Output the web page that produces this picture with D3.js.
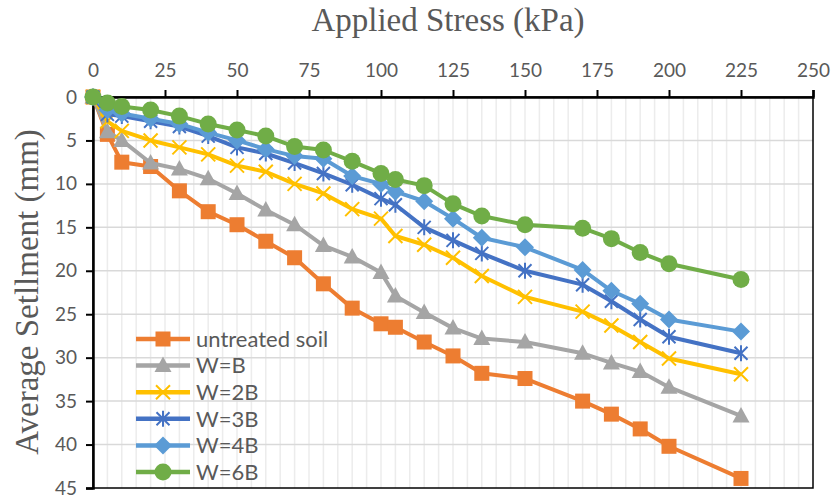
<!DOCTYPE html>
<html><head><meta charset="utf-8">
<script src="https://cdn.jsdelivr.net/npm/d3@7/dist/d3.min.js"></script>
<style>body{margin:0;background:#fff}svg{display:block}</style>
</head><body><svg id="c" width="834" height="500"></svg>
<script>
const stress = [0,5,10,20,30,40,50,60,70,80,90,100,105,115,125,135,150,170,180,190,200,225];
const untreated = [0,4.3,7.5,8.0,10.8,13.2,14.7,16.6,18.5,21.5,24.3,26.1,26.5,28.2,29.8,31.8,32.4,35.0,36.5,38.2,40.2,43.9];
const wB  = [0,4.0,5.0,7.6,8.3,9.4,11.1,13.0,14.7,17.1,18.4,20.2,22.9,24.8,26.6,27.8,28.2,29.5,30.6,31.6,33.4,36.7];
const w2B = [0,2.8,3.9,5.0,5.8,6.6,7.9,8.6,10.0,11.1,12.9,14.0,16.0,17.0,18.5,20.6,23.0,24.7,26.3,28.2,30.1,31.9];
const w3B = [0,2.0,2.2,2.8,3.4,4.5,5.8,6.5,7.6,8.8,10.1,11.7,12.4,15.0,16.5,18.0,20.0,21.6,23.5,25.6,27.6,29.5];
const w4B = [0,1.5,1.9,2.5,3.1,4.1,5.0,6.0,6.8,7.1,9.1,10.0,10.9,12.0,14.0,16.2,17.3,19.9,22.3,23.8,25.6,27.0];
const w6B = [0,0.7,1.1,1.5,2.2,3.1,3.8,4.5,5.7,6.1,7.4,8.8,9.5,10.2,12.3,13.7,14.7,15.1,16.3,17.9,19.2,21.0];
const seriesNames = ["untreated soil","W=B","W=2B","W=3B","W=4B","W=6B"];
const seriesValues = [untreated,wB,w2B,w3B,w4B,w6B];
const seriesColors = ["#ED7D31","#A5A5A5","#FFC000","#4472C4","#5B9BD5","#70AD47"];
const seriesMarkers = ["square","triangle","x","asterisk","diamond","circle"];
const xTicks = [0,25,50,75,100,125,150,175,200,225,250];
const yTicks = [0,5,10,15,20,25,30,35,40,45];

const svg = d3.select("#c");
const L=93,R=813,T=97,B=488;
const x = d3.scaleLinear().domain([0,250]).range([L,R]);
const y = d3.scaleLinear().domain([0,45]).range([T,B]);
const font = "Lato, 'Open Sans', sans-serif";
const serif = "'Liberation Serif','Times New Roman',serif";
const txt = "#595959";

// minor vertical grid
svg.append("g").selectAll("line").data(d3.range(5,250,5))
  .join("line").attr("x1",d=>x(d)).attr("x2",d=>x(d)).attr("y1",T).attr("y2",B)
  .attr("stroke","#ececec").attr("stroke-width",1.5);
// major horizontal grid
svg.append("g").selectAll("line").data(yTicks.filter(d=>d>0&&d<45))
  .join("line").attr("x1",L).attr("x2",R).attr("y1",d=>y(d)).attr("y2",d=>y(d))
  .attr("stroke","#d9d9d9").attr("stroke-width",1.5);

// frame
svg.append("rect").attr("x",L).attr("y",T).attr("width",R-L).attr("height",B-T)
  .attr("fill","none").attr("stroke","#000").attr("stroke-width",1.5);

const xa = svg.append("g").attr("transform",`translate(0,${T})`)
  .call(d3.axisTop(x).tickValues(xTicks).tickSize(7).tickPadding(13).tickFormat(d3.format("d")));
const ya = svg.append("g").attr("transform",`translate(${L},0)`)
  .call(d3.axisLeft(y).tickValues(yTicks).tickSize(7).tickPadding(9).tickFormat(d3.format("d")));
[xa,ya].forEach(a=>{
  a.select(".domain").attr("stroke","#000").attr("stroke-width",2.5);
  a.selectAll(".tick line").attr("stroke","#000").attr("stroke-width",2);
  a.selectAll(".tick text").attr("fill",txt).style("font-family",font).style("font-size","19px");
});

svg.append("text").attr("x",448).attr("y",31).attr("text-anchor","middle")
  .style("font-family",serif).style("font-size","33px")
  .attr("fill",txt).text("Applied Stress (kPa)");
svg.append("text").attr("transform",`translate(38,292) rotate(-90)`).attr("text-anchor","middle")
  .style("font-family",serif).style("font-size","33px")
  .attr("fill",txt).text("Average Setllment (mm)");

function marker(g, type, color){
  if(type==="square") g.append("rect").attr("x",-7.5).attr("y",-7.5).attr("width",15).attr("height",15).attr("fill",color);
  else if(type==="triangle") g.append("path").attr("d","M0,-9L8.5,6.5L-8.5,6.5Z").attr("fill",color);
  else if(type==="diamond") g.append("path").attr("d","M0,-9L9,0L0,9L-9,0Z").attr("fill",color);
  else if(type==="circle") g.append("circle").attr("r",8.5).attr("fill",color);
  else if(type==="x") g.append("path").attr("d","M-7,-7L7,7M-7,7L7,-7").attr("stroke",color).attr("stroke-width",2).attr("fill","none");
  else if(type==="asterisk") g.append("path").attr("d","M-6.5,-6.5L6.5,6.5M-6.5,6.5L6.5,-6.5M0,-8L0,8").attr("stroke",color).attr("stroke-width",2).attr("fill","none");
}

const line = d3.line().x(d=>x(d[0])).y(d=>y(d[1]));
seriesValues.forEach((vals,i)=>{
  const pts = stress.map((s,j)=>[s,vals[j]]);
  const g = svg.append("g");
  g.append("path").attr("d",line(pts)).attr("fill","none").attr("stroke",seriesColors[i])
    .attr("stroke-width",4).attr("stroke-linejoin","round");
  pts.forEach(p=>{
    const m = g.append("g").attr("transform",`translate(${x(p[0])},${y(p[1])})`);
    marker(m, seriesMarkers[i], seriesColors[i]);
  });
});

// legend
const lg = svg.append("g");
seriesNames.forEach((n,i)=>{
  const yy = 339 + i*26.6;
  lg.append("line").attr("x1",136).attr("x2",190).attr("y1",yy).attr("y2",yy)
    .attr("stroke",seriesColors[i]).attr("stroke-width",4.5);
  const m = lg.append("g").attr("transform",`translate(163,${yy})`);
  marker(m, seriesMarkers[i], seriesColors[i]);
  lg.append("text").attr("x",196).attr("y",yy).attr("dy","0.35em").attr("fill",txt)
    .style("font-family",font).style("font-size","22px").text(n);
});
</script></body></html>
